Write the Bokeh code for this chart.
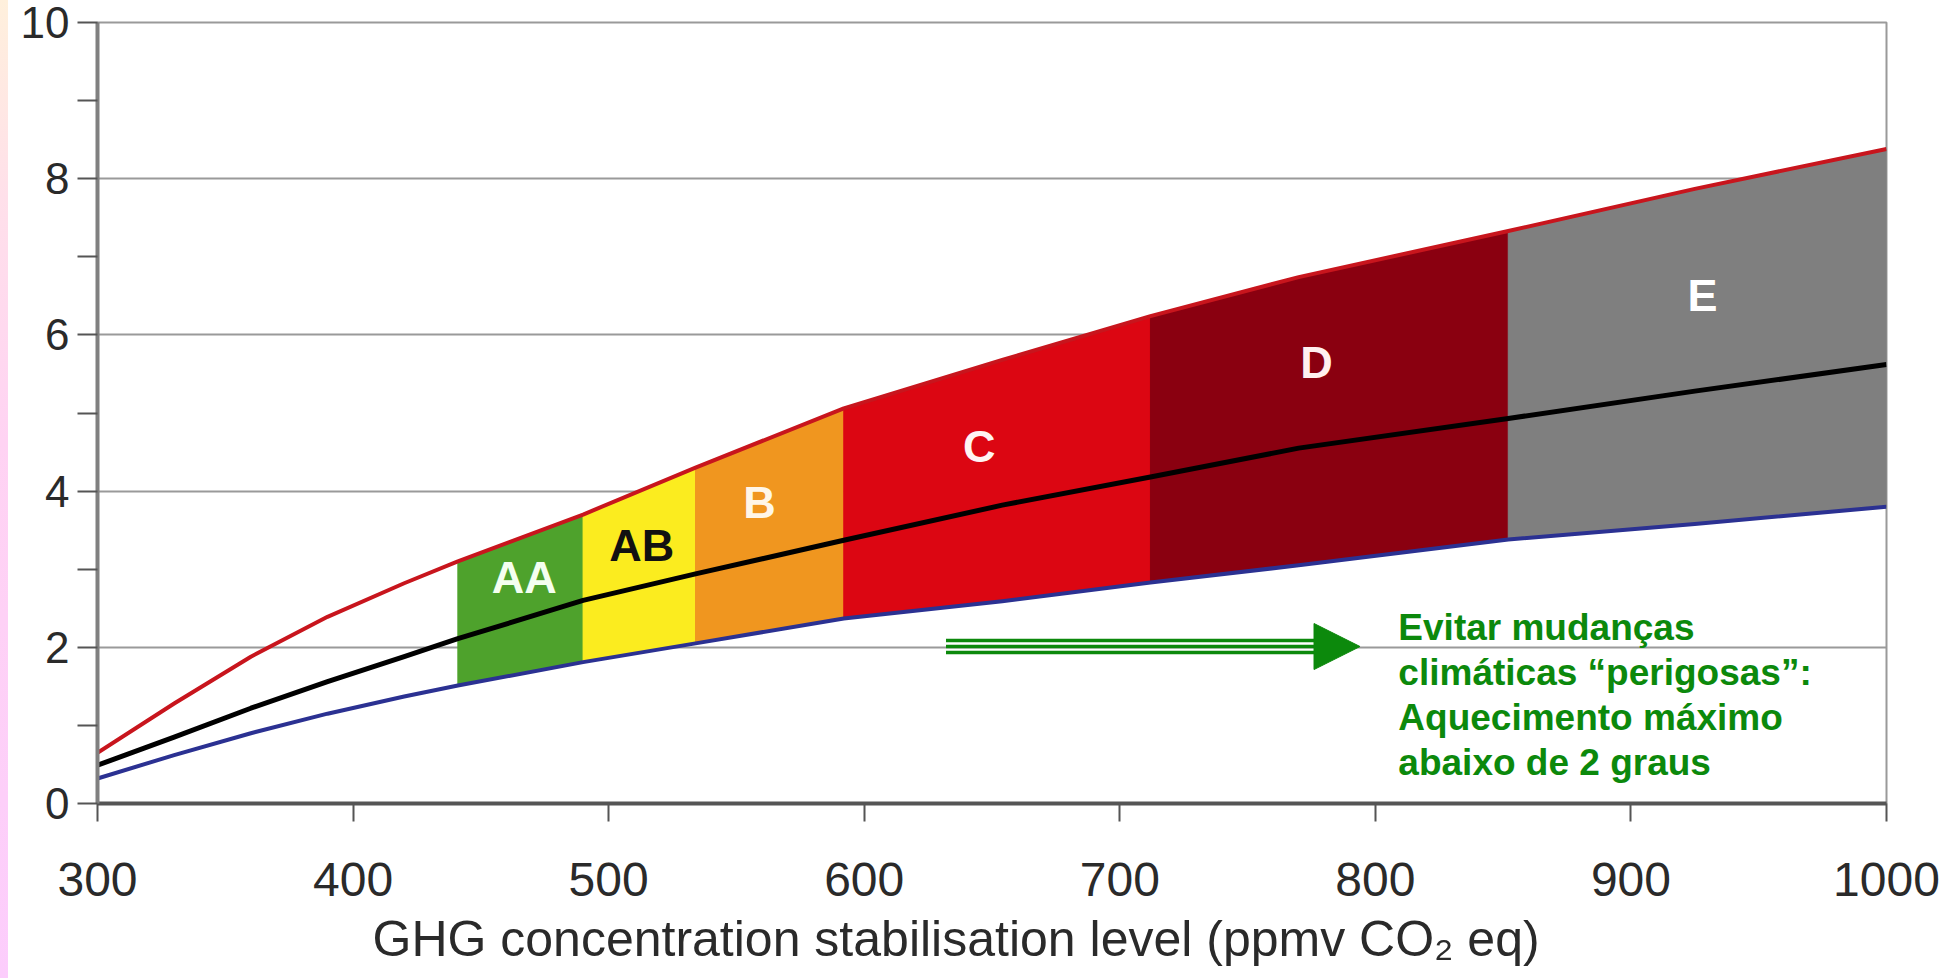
from bokeh.plotting import figure
from bokeh.models import FixedTicker, Arrow, NormalHead, Title
from bokeh.core.properties import value
from bokeh.embed import file_html
from bokeh.resources import INLINE

# ---- data ----
ppm = [300, 330, 360, 390, 420, 441, 490, 534, 592, 654, 712, 770, 852, 925, 1000]
upper = [0.65, 1.28, 1.88, 2.39, 2.82, 3.10, 3.70, 4.30, 5.06, 5.68, 6.24, 6.74, 7.33, 7.87, 8.38]
middle = [0.49, 0.85, 1.22, 1.56, 1.88, 2.11, 2.60, 2.94, 3.37, 3.82, 4.18, 4.55, 4.93, 5.28, 5.62]
lower = [0.32, 0.62, 0.90, 1.15, 1.37, 1.51, 1.81, 2.05, 2.37, 2.59, 2.83, 3.05, 3.38, 3.58, 3.80]

band_bounds = [441, 490, 534, 592, 712, 852, 1000]
band_names = ["AA", "AB", "B", "C", "D", "E"]
band_colors = ["#4ea22c", "#fbec1f", "#f0961f", "#dc0612", "#8a0010", "#7f7f7f"]
band_label_x = [467, 513, 559, 645, 777, 928]
band_label_y = [2.9, 3.3, 3.86, 4.57, 5.65, 6.5]
band_label_colors = ["#f4fff0", "#111111", "#fff6e8", "#fff4f4", "#fff0f0", "#ffffff"]

x_ticks = [300, 400, 500, 600, 700, 800, 900, 1000]
y_ticks = [0, 2, 4, 6, 8, 10]
y_minor = [1, 3, 5, 7, 9]

x_title = "GHG concentration stabilisation level (ppmv CO\u2082 eq)"

note_lines = ["Evitar mudanças", "climáticas \u201cperigosas\u201d:", "Aquecimento máximo", "abaixo de 2 graus"]
note_x = 809
note_y = [2.25, 1.68, 1.10, 0.525]

arrow_x0, arrow_x1, arrow_tip = 632, 777, 794
arrow_y = 2.01
arrow_gap = 0.077

GREEN = "#0c890c"
TXT = "#2a2a2a"

p = figure(width=1943, height=978, x_range=(300, 1000), y_range=(0, 10),
           output_backend="svg", toolbar_location=None,
           min_border_left=97, min_border_right=57, min_border_top=22, min_border_bottom=175)
p.background_fill_color = "white"
p.border_fill_color = None
# thin pastel strip along the left edge of the page, white elsewhere
p.styles = {"background": "linear-gradient(to bottom, #fff0dc 0%, #ffe0ea 20%, #ffd3f3 45%, #fccdfc 100%) "
                          "left top / 8px 100% no-repeat, white"}
p.outline_line_color = "#9a9a9a"
p.outline_line_width = 2

# axes
p.xaxis.ticker = FixedTicker(ticks=x_ticks)
p.yaxis.ticker = FixedTicker(ticks=y_ticks, minor_ticks=y_minor)
p.xgrid.visible = False
p.ygrid.ticker = FixedTicker(ticks=y_ticks)
p.ygrid.grid_line_color = "#9a9a9a"
p.ygrid.grid_line_width = 2

for ax in (p.xaxis, p.yaxis):
    ax.axis_label = None
    ax.axis_label_standoff = 0
    ax.major_label_text_font = "Liberation Sans"
    ax.major_label_text_color = TXT
    ax.major_tick_in = 0
    ax.major_tick_line_color = "#555555"
    ax.major_tick_line_width = 2

p.yaxis.major_label_text_font_size = "44px"
p.yaxis.axis_line_color = "#808080"
p.yaxis.axis_line_width = 4
p.yaxis.major_tick_out = 20
p.yaxis.minor_tick_out = 20
p.yaxis.minor_tick_in = 0
p.yaxis.minor_tick_line_color = "#555555"
p.yaxis.minor_tick_line_width = 2
p.yaxis.major_label_standoff = 8

p.xaxis.major_label_text_font_size = "48px"
p.xaxis.axis_line_color = "#555555"
p.xaxis.axis_line_width = 4
p.xaxis.major_tick_out = 18
p.xaxis.minor_tick_line_color = None
p.xaxis.major_label_standoff = 41

# x-axis title, below the tick labels, slightly left of centre like the original
p.add_layout(Title(text=x_title, align="left", offset=275, standoff=21,
                   text_font="Liberation Sans", text_font_size="50px",
                   text_font_style="normal", text_color=TXT), "below")

# bands
band_xs, band_ys = [], []
for i in range(len(band_names)):
    x0, x1 = band_bounds[i], band_bounds[i + 1]
    idx = [k for k, x in enumerate(ppm) if x0 <= x <= x1]
    xs = [ppm[k] for k in idx] + [ppm[k] for k in reversed(idx)]
    ys = [upper[k] for k in idx] + [lower[k] for k in reversed(idx)]
    band_xs.append(xs)
    band_ys.append(ys)
p.patches(xs=band_xs, ys=band_ys, fill_color=band_colors, line_color=band_colors, line_width=1)

# curves
p.line(ppm, lower, line_color="#2b3192", line_width=4, line_join="round")
p.line(ppm, upper, line_color="#c8151d", line_width=4, line_join="round")
p.line(ppm, middle, line_color="black", line_width=5, line_join="round")

# band labels
p.text(x=band_label_x, y=band_label_y, text=band_names, text_color=band_label_colors,
       text_font=value("Liberation Sans"), text_font_style="bold", text_font_size="45px",
       text_align="center", text_baseline="middle")

# arrow
for off in (-arrow_gap, 0, arrow_gap):
    p.segment(x0=[arrow_x0], y0=[arrow_y + off], x1=[arrow_x1], y1=[arrow_y + off],
              line_color=GREEN, line_width=3.5)
p.add_layout(Arrow(end=NormalHead(size=46, fill_color=GREEN, line_color=GREEN, line_width=1),
                   x_start=arrow_x1 - 5, y_start=arrow_y, x_end=arrow_tip, y_end=arrow_y,
                   line_alpha=0))

# annotation text
p.text(x=[note_x] * len(note_lines), y=note_y, text=note_lines, text_color=GREEN,
       text_font=value("Liberation Sans"), text_font_style="bold", text_font_size="37px",
       text_align="left", text_baseline="alphabetic")

open("out.html", "w").write(file_html(p, INLINE))
